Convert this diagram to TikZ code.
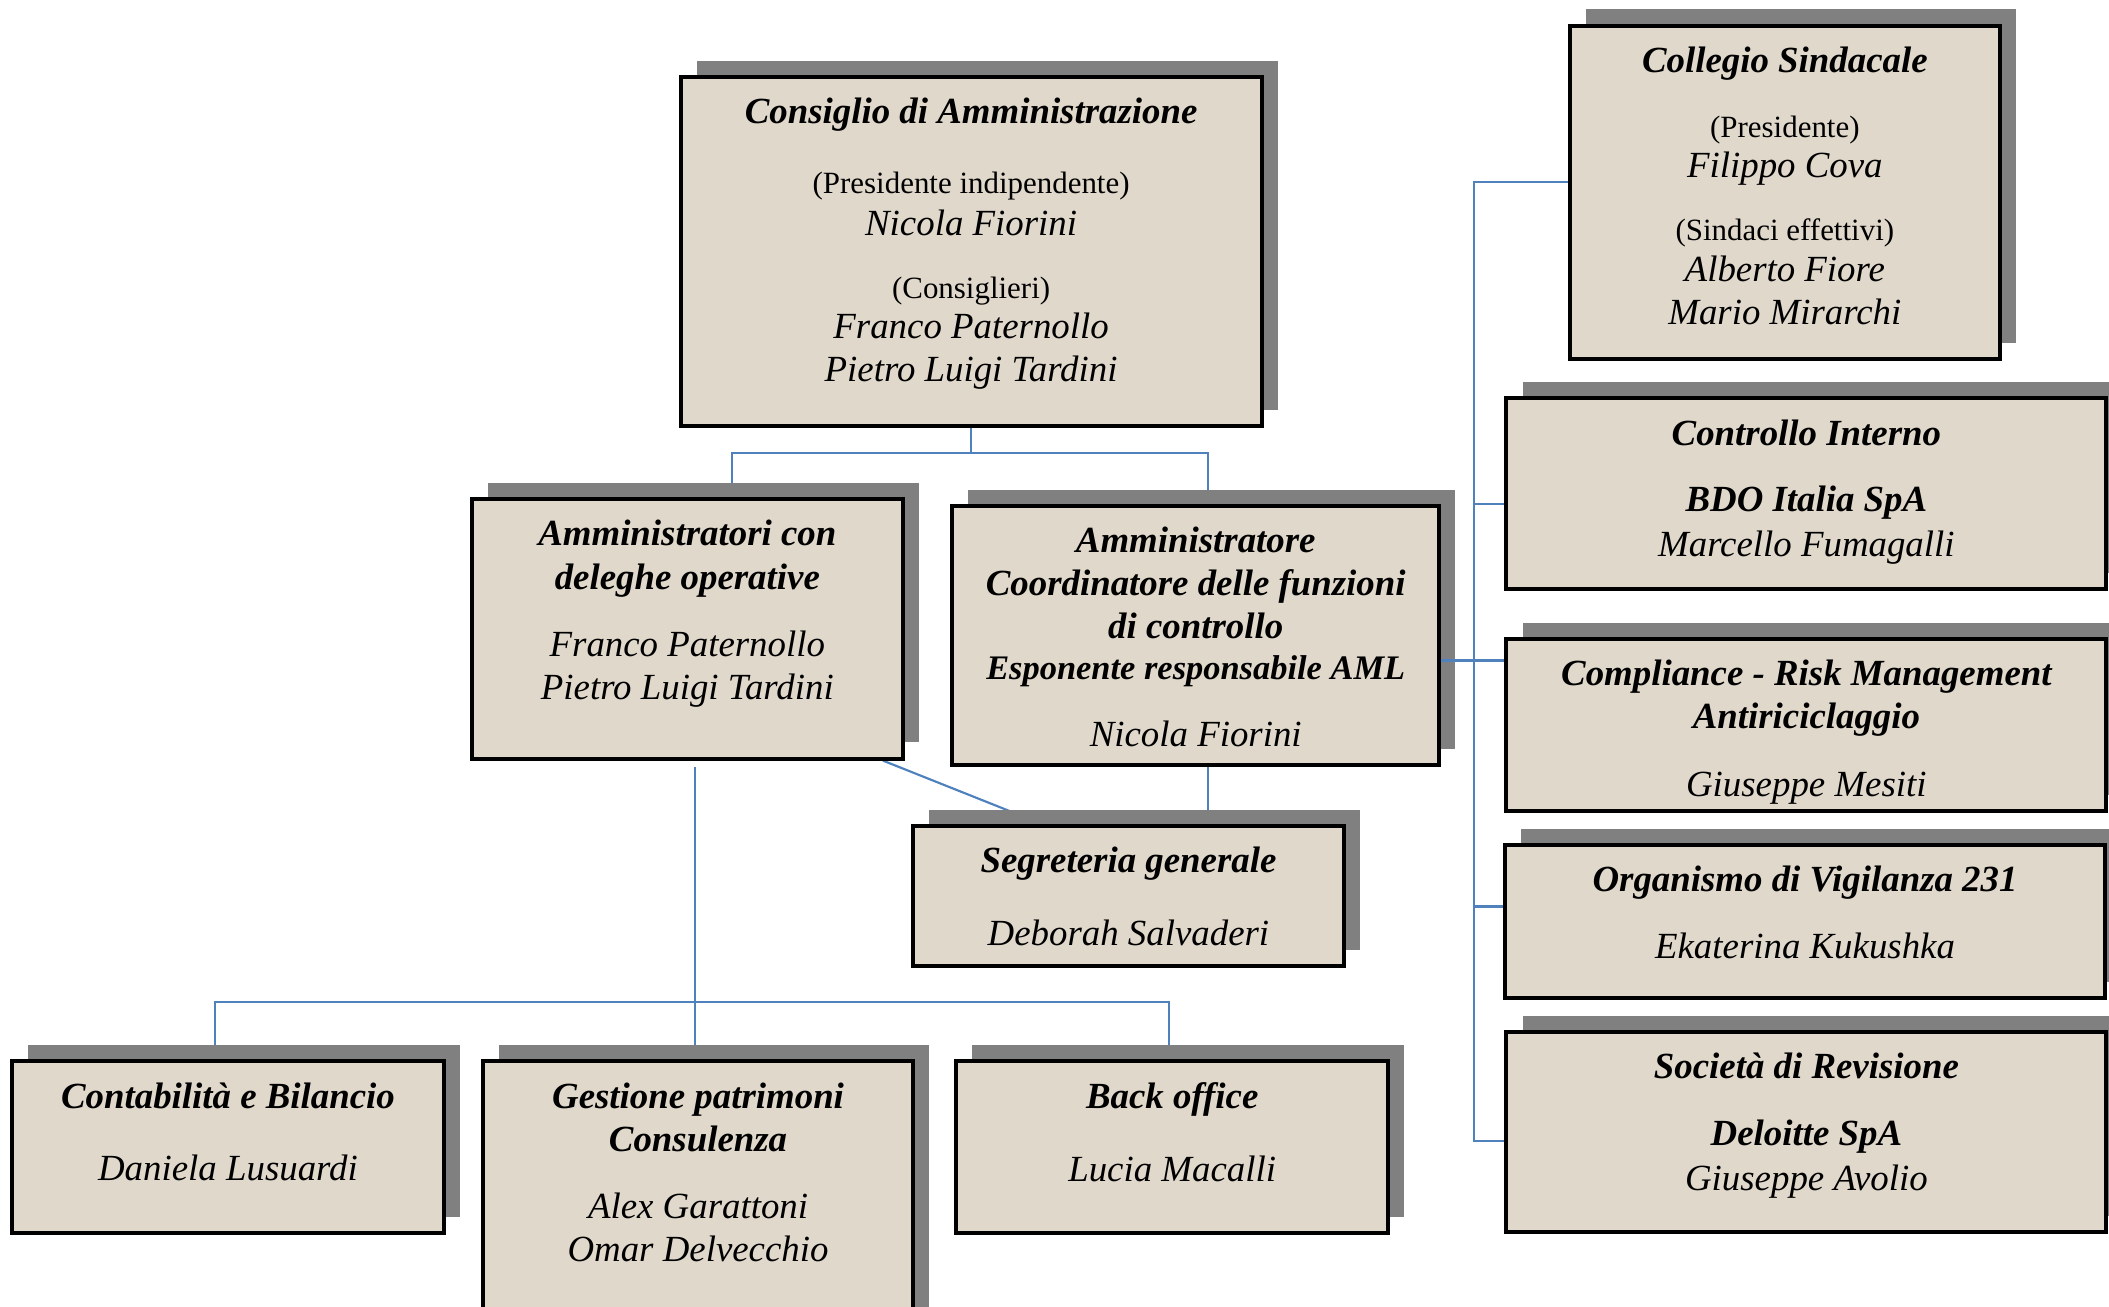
\documentclass[tikz,border=0pt]{standalone}
\usepackage{fontspec}
\setmainfont{Liberation Serif}
\usetikzlibrary{shadows,backgrounds}
\definecolor{sabbia}{RGB}{224,216,203}
\definecolor{ombra}{RGB}{128,128,128}
\definecolor{linea}{RGB}{79,129,189}
\newcommand{\titolo}[1]{{\bfseries\itshape #1}}
\newcommand{\nome}[1]{{\itshape #1}}
\newcommand{\ruolo}[1]{{\fontsize{11.5}{16}\selectfont #1}}
\tikzset{
  casella/.style={rectangle, draw=black, line width=1.5pt, fill=sabbia, inner sep=0pt,
    drop shadow={shadow xshift=6pt, shadow yshift=6pt, fill=ombra, opacity=1}},
  testo/.style={anchor=north, inner sep=0pt, align=center, font=\fontsize{13.7}{16}\selectfont},
  conn/.style={draw=linea, line width=0.8pt}
}
\begin{document}
\begin{tikzpicture}[x=0.5pt,y=-0.5pt]
\useasboundingbox (0,0) rectangle (1568,971);

% caselle
\node (cda) [casella, minimum width=216pt, minimum height=130pt] at (722,187) {};
\node (col) [casella, minimum width=160pt, minimum height=124pt] at (1327,143) {};
\node (del) [casella, minimum width=160pt, minimum height=96.5pt] at (511,467.5) {};
\node (coord) [casella, minimum width=181pt, minimum height=96.5pt] at (889,472.5) {};
\node (seg) [casella, minimum width=160pt, minimum height=52pt] at (839,666) {};
\node (ctrl) [casella, minimum width=223pt, minimum height=71pt] at (1343,367) {};
\node (comp) [casella, minimum width=223pt, minimum height=64pt] at (1343,539) {};
\node (odv) [casella, minimum width=223pt, minimum height=57pt] at (1342,685) {};
\node (rev) [casella, minimum width=223pt, minimum height=74.5pt] at (1343,841.5) {};
\node (cont) [casella, minimum width=160.5pt, minimum height=64pt] at (169.5,853) {};
\node (gest) [casella, minimum width=160pt, minimum height=103pt] at (519,892) {};
\node (back) [casella, minimum width=160.5pt, minimum height=64pt] at (871.5,853) {};

% testi
\node (cdatxt) [testo] at ([yshift=-8.5pt]cda.north) {\titolo{Consiglio di Amministrazione}\\[10pt]\ruolo{(Presidente indipendente)}\\[-0.5pt]\nome{Nicola Fiorini}\\[7.5pt]\ruolo{(Consiglieri)}\\[-1pt]\nome{Franco Paternollo}\\\nome{Pietro Luigi Tardini}};
\node (coltxt) [testo] at ([yshift=-8.5pt]col.north) {\titolo{Collegio Sindacale}\\[8pt]\ruolo{(Presidente)}\\[-1pt]\nome{Filippo Cova}\\[7.5pt]\ruolo{(Sindaci effettivi)}\\[-1pt]\nome{Alberto Fiore}\\\nome{Mario Mirarchi}};
\node (deltxt) [testo] at ([yshift=-8.5pt]del.north) {\titolo{Amministratori con}\\\titolo{deleghe operative}\\[9pt]\nome{Franco Paternollo}\\\nome{Pietro Luigi Tardini}};
\node (coordtxt) [testo] at ([yshift=-8.5pt]coord.north) {\titolo{Amministratore}\\\titolo{Coordinatore delle funzioni}\\\titolo{di controllo}\\[-1pt]{\fontsize{12.8}{16}\selectfont\titolo{Esponente responsabile AML}}\\[9pt]\nome{Nicola Fiorini}};
\node (segtxt) [testo] at ([yshift=-8.5pt]seg.north) {\titolo{Segreteria generale}\\[11pt]\nome{Deborah Salvaderi}};
\node (ctrltxt) [testo] at ([yshift=-8.5pt]ctrl.north) {\titolo{Controllo Interno}\\[8.5pt]\titolo{BDO Italia SpA}\\[1pt]\nome{Marcello Fumagalli}};
\node (comptxt) [testo] at ([yshift=-8.5pt]comp.north) {\titolo{Compliance - Risk Management}\\\titolo{Antiriciclaggio}\\[9pt]\nome{Giuseppe Mesiti}};
\node (odvtxt) [testo] at ([yshift=-8.5pt]odv.north) {\titolo{Organismo di Vigilanza 231}\\[9pt]\nome{Ekaterina Kukushka}};
\node (revtxt) [testo] at ([yshift=-8.5pt]rev.north) {\titolo{Società di Revisione}\\[9pt]\titolo{Deloitte SpA}\\[0.5pt]\nome{Giuseppe Avolio}};
\node (conttxt) [testo] at ([yshift=-8.5pt]cont.north) {\titolo{Contabilità e Bilancio}\\[11pt]\nome{Daniela Lusuardi}};
\node (gesttxt) [testo] at ([yshift=-8.5pt]gest.north) {\titolo{Gestione patrimoni}\\\titolo{Consulenza}\\[9pt]\nome{Alex Garattoni}\\\nome{Omar Delvecchio}};
\node (backtxt) [testo] at ([yshift=-8.5pt]back.north) {\titolo{Back office}\\[11pt]\nome{Lucia Macalli}};

% collegamenti
\begin{scope}[on background layer]
  \coordinate (cdabus) at (722,337);
  \coordinate (basebus) at (517,745);
  \coordinate (destbus) at (1096,848);
  \draw[conn] (cda) -- (cdabus);
  \draw[conn] ([xshift=16.5pt]del.center) |- (cdabus) -| ([xshift=4.5pt]coord.center);
  \draw[conn] ([xshift=-8pt]del.south east) -- ([xshift=48.5pt]seg.north west);
  \draw[conn] ([xshift=4.5pt]coord.center) |- (seg.center);
  \draw[conn] ([xshift=3pt,yshift=-2.5pt]del.south) -- ([xshift=-1pt]gest.center);
  \draw[conn] ([xshift=-4.75pt]cont.center) |- (basebus) -| ([xshift=-1.25pt]back.center);
  \draw[conn] ([yshift=4pt]col.center) -| (destbus) -- ([yshift=-3.25pt]rev.center);
  \draw[conn] ([yshift=-4pt]ctrl.center) -| (destbus);
  \draw[conn] ([yshift=5.5pt]odv.center) -| (destbus);
\end{scope}
\draw[conn] ([yshift=-9.25pt]coord.east) -- ([yshift=24pt]comp.west);
\end{tikzpicture}
\end{document}
